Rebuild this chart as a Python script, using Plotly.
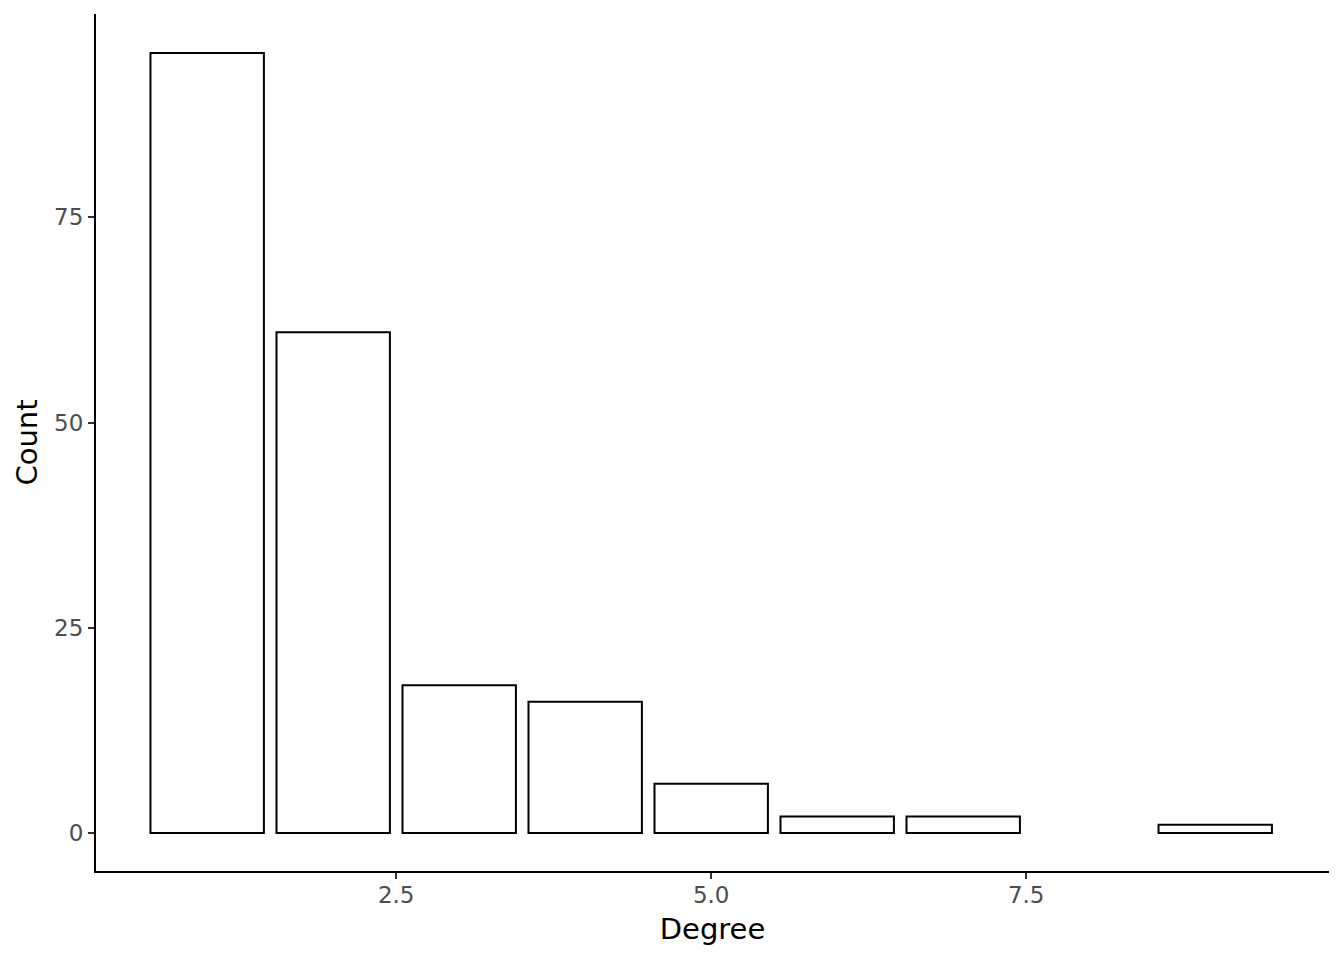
import plotly.graph_objects as go

degrees = [1, 2, 3, 4, 5, 6, 7, 9]
counts = [95, 61, 18, 16, 6, 2, 2, 1]
x_ticks = [2.5, 5.0, 7.5]
x_tick_labels = ["2.5", "5.0", "7.5"]
y_ticks = [0, 25, 50, 75]
y_tick_labels = ["0", "25", "50", "75"]

fig = go.Figure(
    go.Bar(
        x=degrees,
        y=counts,
        width=0.9,
        marker=dict(color="white", line=dict(color="black", width=2)),
    )
)

font_family = "DejaVu Sans"
fig.update_layout(
    width=1344,
    height=960,
    margin=dict(l=95.5, r=15, t=14, b=89.3),
    plot_bgcolor="white",
    paper_bgcolor="white",
    showlegend=False,
    font=dict(family=font_family),
)
fig.update_xaxes(
    range=[0.1176, 9.903],
    tickvals=x_ticks,
    ticktext=x_tick_labels,
    showgrid=False,
    zeroline=False,
    showline=True,
    linecolor="black",
    linewidth=2,
    ticks="outside",
    ticklen=6,
    tickwidth=2,
    tickcolor="#333333",
    ticklabelstandoff=-4,
    tickfont=dict(size=23, color="#4D4D4D", family=font_family),
    title=dict(text="Degree", font=dict(size=29, color="black", family=font_family), standoff=12),
)
fig.update_yaxes(
    range=[-4.63, 99.76],
    tickvals=y_ticks,
    ticktext=y_tick_labels,
    showgrid=False,
    zeroline=False,
    showline=True,
    linecolor="black",
    linewidth=2,
    ticks="outside",
    ticklen=6,
    tickwidth=2,
    tickcolor="#333333",
    tickfont=dict(size=23, color="#4D4D4D", family=font_family),
    title=dict(text="Count", font=dict(size=29, color="black", family=font_family), standoff=8),
)

fig.write_html(
    "out.html",
    config={"displayModeBar": False},
    post_script="document.body.style.margin='0';document.body.style.padding='0';",
)
